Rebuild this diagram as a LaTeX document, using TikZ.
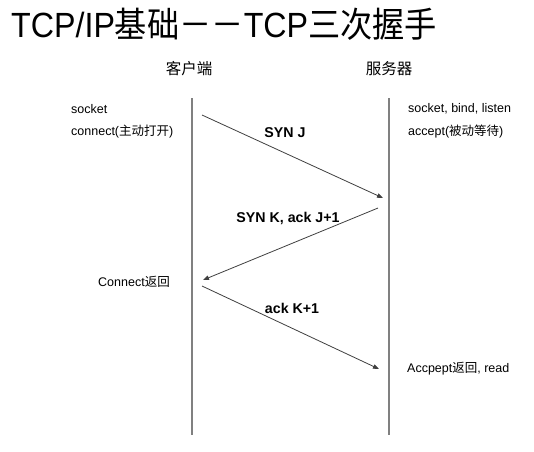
\documentclass[tikz,border=0pt]{standalone}
\usepackage{fontspec}
\setmainfont{Liberation Sans}
\newfontfamily\cjk{Noto Sans CJK SC}
\usetikzlibrary{arrows.meta}
\tikzset{
  lifeline/.style={draw=black!50, line width=1.3pt},
  msg/.style={draw=black!75, line width=0.8pt, -{Triangle[length=6pt,width=4.5pt]}},
  txt/.style={inner sep=0pt, font=\fontsize{12.5}{15}\selectfont, anchor=west},
  lbl/.style={inner sep=0pt, font=\fontsize{14.2}{17}\selectfont\bfseries},
  hdr/.style={inner sep=0pt, font=\cjk\fontsize{15.5}{18}\selectfont},
}
\begin{document}
\begin{tikzpicture}[x=1pt,y=-1pt]
\useasboundingbox[fill=white] (0,0) rectangle (534,451);
% title
\node[inner sep=0pt, anchor=west] (title) at (11,24)
  {\scalebox{0.92}[1]{\fontsize{35}{40}\selectfont TCP/IP{\cjk 基础－－}TCP{\cjk 三次握手}}};
% headers
\node[hdr] (client) at (189,69) {客户端};
\node[hdr] (server) at (389,69) {服务器};
% lifelines
\coordinate (cTop) at (192,98);
\coordinate (cBot) at (192,435);
\coordinate (sTop) at (389,98);
\coordinate (sBot) at (389,435);
\draw[lifeline] (cTop) -- (cBot);
\draw[lifeline] (sTop) -- (sBot);
% left texts
\node[txt] (csock) at (71,109) {socket};
\node[txt] (cconn) at (71,132) {connect({\cjk 主动打开})};
\node[txt] (cret) at (98,282) {Connect{\cjk 返回}};
% right texts
\node[txt] (ssock) at (408,109) {socket, bind, listen};
\node[txt] (sacc) at (408,132) {accept({\cjk 被动等待})};
\node[txt] (sret) at (407,369) {Accpept{\cjk 返回}, read};
% messages
\coordinate (m1s) at (202,115);
\coordinate (m1e) at (383,198);
\coordinate (m2s) at (378,208);
\coordinate (m2e) at (203,280);
\coordinate (m3s) at (202,286);
\coordinate (m3e) at (379,369);
\draw[msg] (m1s) -- (m1e);
\draw[msg] (m2s) -- (m2e);
\draw[msg] (m3s) -- (m3e);
\node[lbl] (l1) at (285,133) {SYN J};
\node[lbl] (l2) at (288,218) {SYN K, ack J+1};
\node[lbl] (l3) at (292,308) {ack K+1};
\end{tikzpicture}
\end{document}
